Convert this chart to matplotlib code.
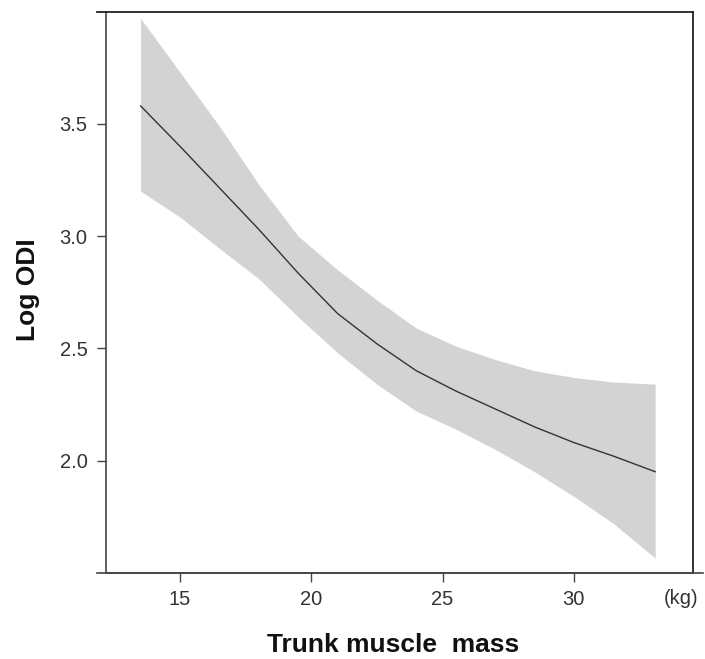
import matplotlib
matplotlib.use("Agg")
import matplotlib.pyplot as plt
import numpy as np

# Datos (masa muscular del tronco vs Log ODI)
muscle_kg = [13.5, 15, 16.5, 18, 19.5, 21, 22.5, 24, 25.5, 27, 28.5, 30, 31.5, 33.1]
log_odi = [3.58, 3.40, 3.215, 3.03, 2.835, 2.655, 2.52, 2.40, 2.31, 2.23, 2.15, 2.08, 2.02, 1.95]
ci_upper = [3.97, 3.73, 3.49, 3.23, 3.00, 2.85, 2.715, 2.59, 2.51, 2.45, 2.40, 2.37, 2.35, 2.34]
ci_lower = [3.20, 3.085, 2.945, 2.81, 2.64, 2.48, 2.34, 2.22, 2.14, 2.05, 1.95, 1.84, 1.72, 1.565]

x_ticks = [15, 20, 25, 30]
y_ticks = [2.0, 2.5, 3.0, 3.5]

plt.rcParams["font.family"] = ["Liberation Sans", "DejaVu Sans"]

W, H = 705, 659
fig = plt.figure(figsize=(W / 100, H / 100), dpi=100)
fig.patch.set_facecolor("white")

# posicion de los ejes en pixeles
left_px, right_px, top_px, bot_px = 106, 693, 11.7, 572.7
ax = fig.add_axes([left_px / W, 1 - bot_px / H,
                   (right_px - left_px) / W, (bot_px - top_px) / H])

ax.fill_between(muscle_kg, ci_lower, ci_upper, color="#d3d3d3", linewidth=0)
ax.plot(muscle_kg, log_odi, color="#333333", linewidth=1.0)

ax.set_xlim(12.18, 34.54)
ax.set_ylim(1.5, 4.0)
ax.set_xticks(x_ticks)
ax.set_yticks(y_ticks)
ax.set_yticklabels([f"{v:.1f}" for v in y_ticks])

for side in ["left", "bottom"]:
    ax.spines[side].set_color("#444444")
    ax.spines[side].set_linewidth(1.2)
for side in ["top", "right"]:
    ax.spines[side].set_color("#222222")
    ax.spines[side].set_linewidth(1.3)

ax.tick_params(axis="both", direction="out", length=6.3, width=1.0,
               color="#444444", labelsize=14.5, labelcolor="#333333")
ax.tick_params(axis="y", pad=7)
ax.tick_params(axis="x", pad=6)

# prolongaciones de las lineas del marco (estilo R)
ax_w = right_px - left_px
ext_l = -9 / ax_w
ext_r = (703 - left_px) / ax_w
ax.plot([ext_l, 0], [1, 1], transform=ax.transAxes, color="#222222",
        linewidth=1.3, clip_on=False)
ax.plot([ext_l, ext_r], [0, 0], transform=ax.transAxes, color="#444444",
        linewidth=1.2, clip_on=False)

fig.text(393 / W, 1 - 652 / H, "Trunk muscle  mass", ha="center", va="baseline",
         fontsize=19, fontweight="bold", color="#111111")
fig.text(28 / W, 1 - 289.5 / H, "Log ODI", ha="center", va="center",
         rotation=90, fontsize=19, fontweight="bold", color="#111111")
fig.text(681 / W, 1 - 599 / H, "(kg)", ha="center", va="center",
         fontsize=14.5, color="#333333")

fig.savefig("out.png", dpi=100, facecolor="white")
